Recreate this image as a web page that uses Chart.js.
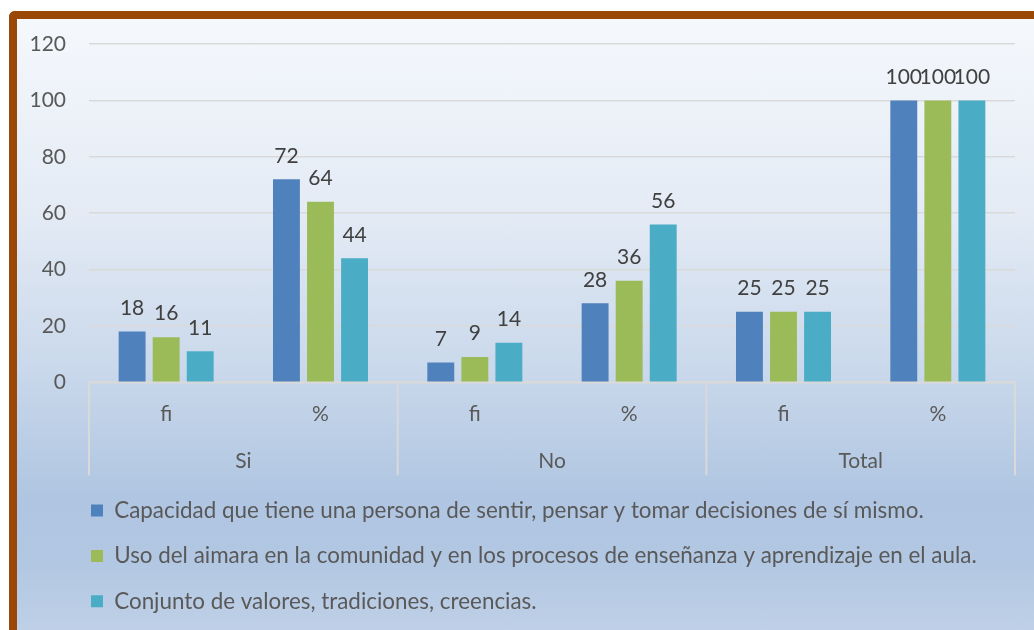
<!DOCTYPE html>
<html>
<head>
<meta charset="utf-8">
<script src="https://cdn.jsdelivr.net/npm/chart.js@4.4.1/dist/chart.umd.min.js"></script>
<style>
  html, body { margin: 0; padding: 0; background: #ffffff; overflow: hidden; }
  #frame {
    position: absolute; left: 9px; top: 11px; width: 1040px; height: 640px;
    border-top: 8px solid #9a4807; border-left: 8px solid #9a4807;
    border-top-left-radius: 6px;
    background: linear-gradient(to bottom, #f5f8fc 0%, #e4ebf5 30%, #c9d8eb 55%, #afc5e1 75%, #b2c7e2 85%, #c4d4e9 100%);
  }
  #chart { position: absolute; left: 0; top: 0; }
</style>
</head>
<body>
<div id="frame"></div>
<canvas id="chart" width="1034" height="630"></canvas>
<script>
"use strict";

/* data */
var categories = ['fi', '%', 'fi', '%', 'fi', '%'];
var groups = ['Si', 'No', 'Total'];
var seriesNames = [
    'Capacidad que tiene una persona de sentir, pensar y tomar decisiones de sí mismo.',
    'Uso del aimara en la comunidad y en los procesos de enseñanza y aprendizaje en el aula.',
    'Conjunto de valores, tradiciones, creencias.'
];
var capacidad = [18, 72, 7, 28, 25, 100];
var usoAimara = [16, 64, 9, 36, 25, 100];
var valores = [11, 44, 14, 56, 25, 100];
var seriesColors = ['#4f81bd', '#9bbb59', '#4bacc6'];

var fontFamily = 'Lato, "Open Sans", sans-serif';

/* value labels above bars */
var barLabels = {
    id: 'barLabels',
    afterDatasetsDraw: function (chart) {
        var ctx = chart.ctx;
        ctx.save();
        ctx.font = '21px ' + fontFamily;
        ctx.fillStyle = '#404040';
        ctx.textAlign = 'center';
        ctx.textBaseline = 'bottom';
        chart.data.datasets.forEach(function (ds, di) {
            chart.getDatasetMeta(di).data.forEach(function (bar, i) {
                ctx.fillText(String(ds.data[i]), bar.x, bar.y - 13);
            });
        });
        ctx.restore();
    }
};

/* vertical separators between the groups (Si / No / Total) */
var groupLines = {
    id: 'groupLines',
    afterDraw: function (chart) {
        var x = chart.scales.x, x2 = chart.scales.x2;
        var ctx = chart.ctx;
        ctx.save();
        ctx.strokeStyle = '#d9d9d9';
        ctx.lineWidth = 2;
        for (var g = 0; g <= groups.length; g++) {
            var px = x.left + g * (x.right - x.left) / groups.length;
            ctx.beginPath();
            ctx.moveTo(px, x.top);
            ctx.lineTo(px, x2.bottom);
            ctx.stroke();
        }
        ctx.restore();
    }
};

/* push the legend so it lines up under the plot */
var legendShift = {
    id: 'legendShift',
    afterLayout: function (chart) {
        if (chart.legend) {
            chart.legend.left += 40;
            chart.legend.right += 40;
            chart.legend.top += 1;
            chart.legend.bottom += 1;
        }
    }
};

var datasets = [capacidad, usoAimara, valores].map(function (vals, i) {
    return {
        label: seriesNames[i],
        data: vals,
        backgroundColor: seriesColors[i],
        borderWidth: 0,
        categoryPercentage: 0.662,
        barPercentage: 0.79
    };
});

var chartCtx = document.getElementById('chart').getContext('2d');
var myChart = new Chart(chartCtx, {
    type: 'bar',
    data: { labels: categories, datasets: datasets },
    plugins: [barLabels, groupLines, legendShift],
    options: {
        responsive: false,
        animation: false,
        layout: { padding: { left: 28, right: 19, top: 44, bottom: 8.5 } },
        plugins: {
            tooltip: { enabled: false },
            legend: {
                position: 'bottom',
                align: 'start',
                labels: {
                    boxWidth: 12,
                    boxHeight: 12,
                    padding: 23,
                    color: '#595959',
                    font: { family: fontFamily, size: 22.4 }
                }
            }
        },
        scales: {
            y: {
                min: 0,
                max: 120,
                ticks: { stepSize: 20, padding: 23, color: '#595959', font: { family: fontFamily, size: 21 } },
                grid: { color: '#d9d9d9', lineWidth: 1.5, drawTicks: false },
                border: { display: false },
                afterFit: function (scale) { scale.width = 61; }
            },
            x: {
                ticks: { padding: 19, color: '#595959', font: { family: fontFamily, size: 21 } },
                grid: { display: false, drawTicks: false },
                border: { display: true, color: '#d9d9d9', width: 2 },
                afterFit: function (scale) { scale.height = 48; }
            },
            x2: {
                type: 'category',
                labels: groups,
                position: 'bottom',
                offset: true,
                ticks: { padding: 18, color: '#595959', font: { family: fontFamily, size: 21 } },
                grid: { display: false, drawTicks: false },
                border: { display: false },
                afterFit: function (scale) { scale.height = 45; }
            }
        }
    }
});
</script>
</body>
</html>
